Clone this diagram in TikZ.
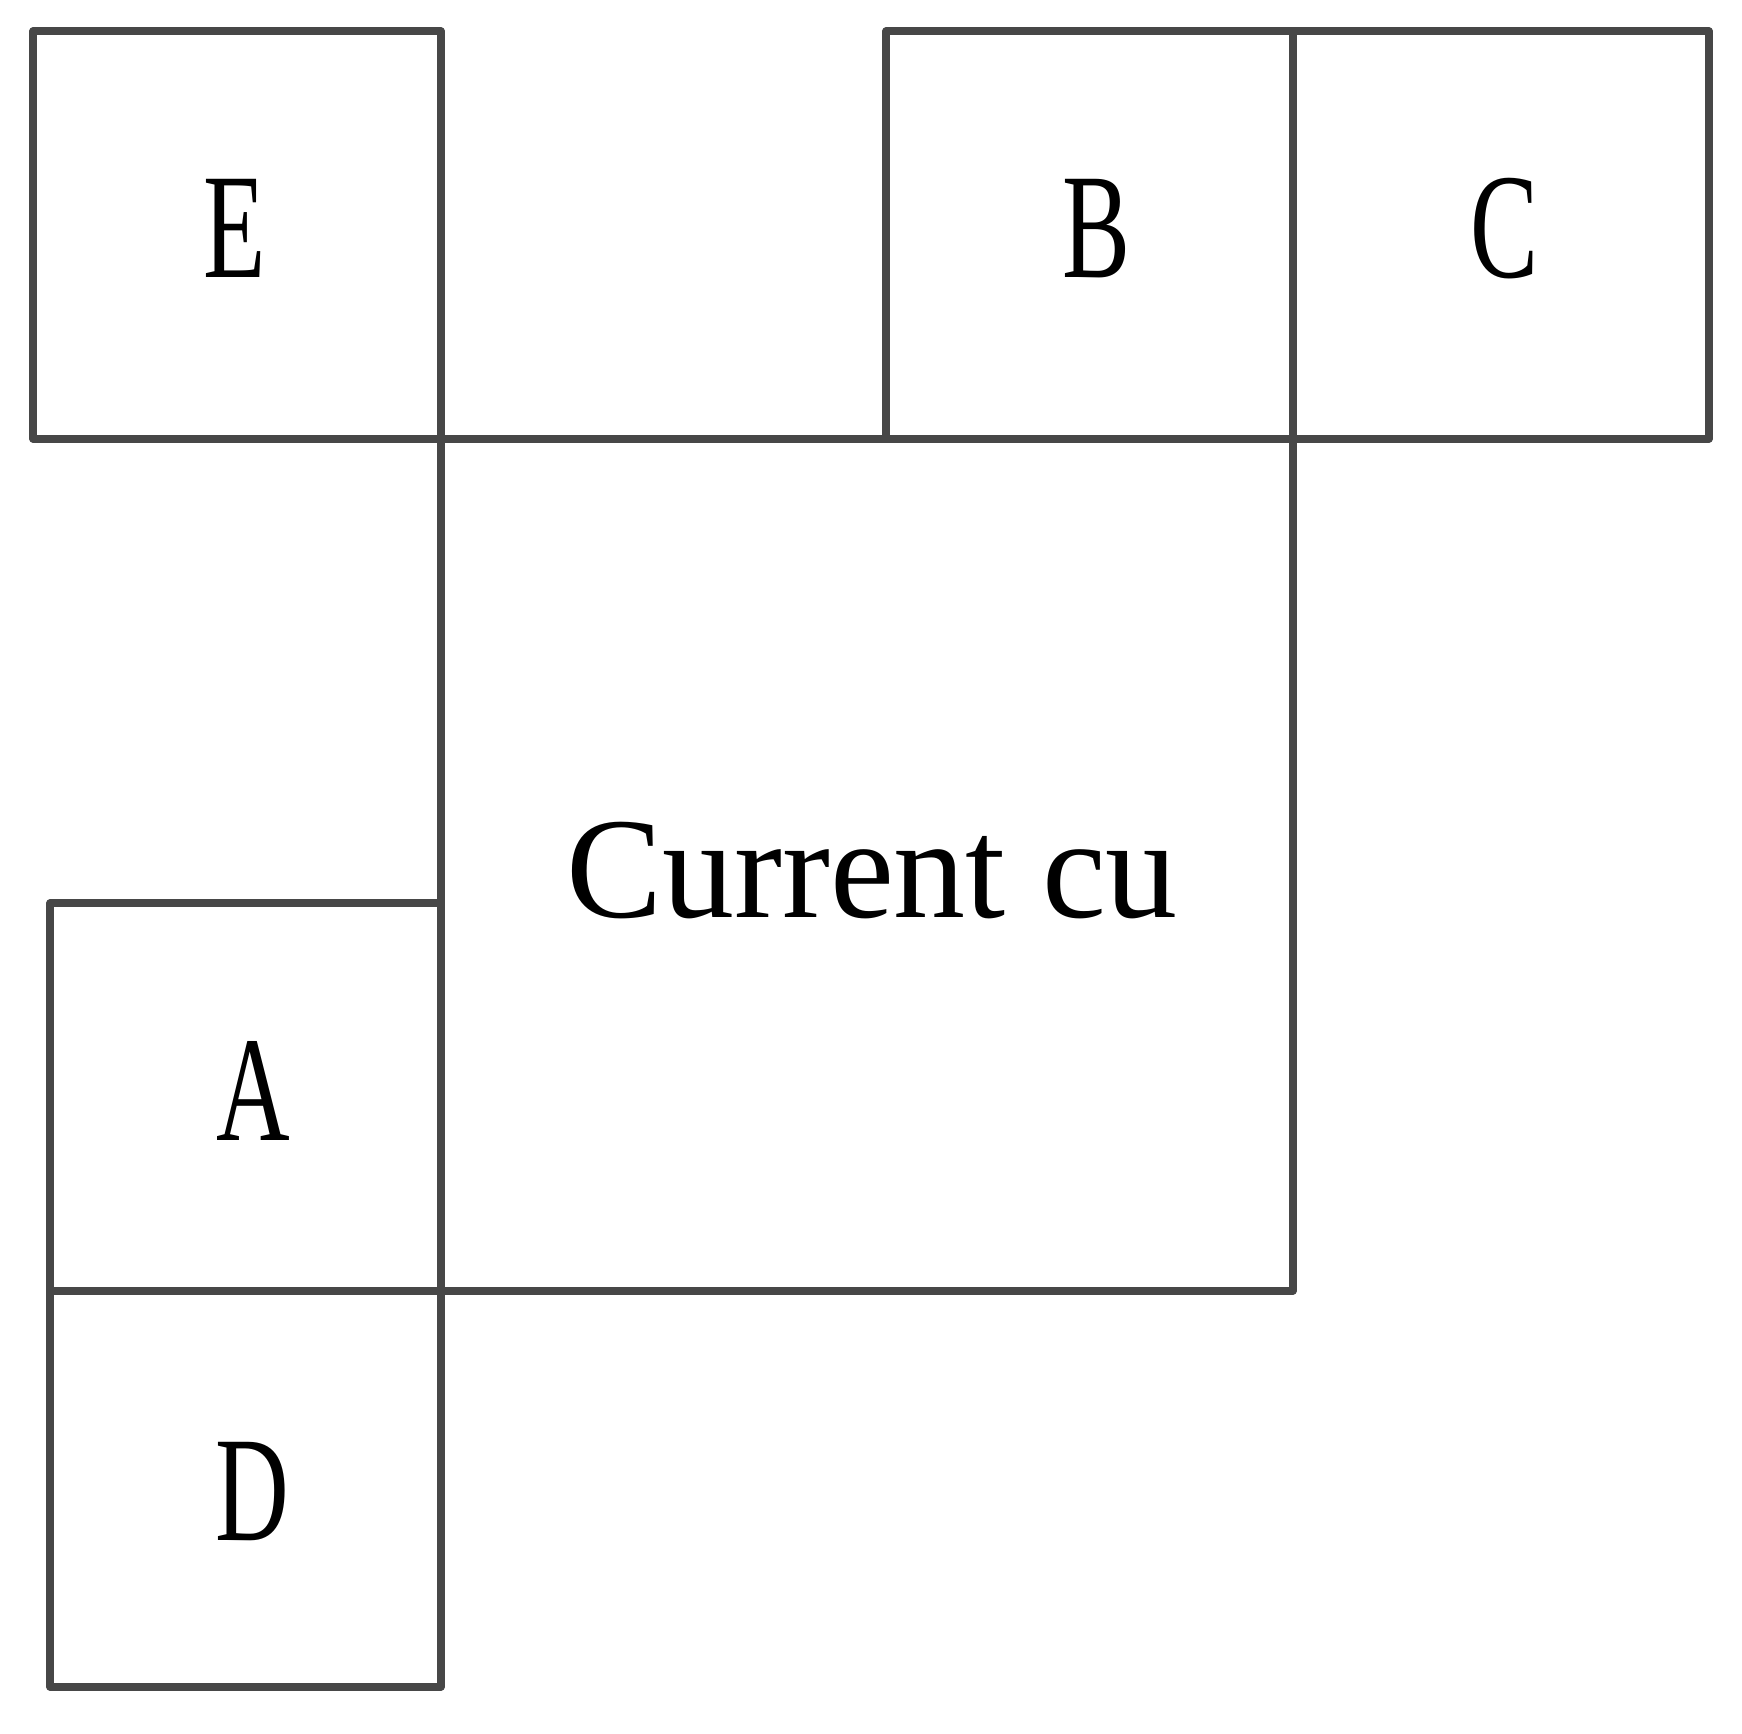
\documentclass[tikz,border=0pt]{standalone}
\usepackage{fontspec}
\setmainfont{Liberation Serif}
\begin{document}
\begin{tikzpicture}[x=0.5pt,y=-0.5pt,
  box/.style={draw=black!72, line width=3.6pt, line join=round, line cap=round},
  lbl/.style={anchor=base, inner sep=0pt, font=\fontsize{75}{80}\selectfont},
  big/.style={anchor=base, inner sep=0pt, font=\fontsize{72}{80}\selectfont}]
\useasboundingbox (0,0) rectangle (1742,1734);
% boxes
\draw[box] (33,31) rectangle (441,439);     % E
\draw[box] (886,31) rectangle (1293,439);   % B
\draw[box] (1293,31) rectangle (1709,439);  % C
\draw[box] (441,439) rectangle (1293,1291); % current
\draw[box] (50,903) rectangle (441,1291);   % A
\draw[box] (50,1291) rectangle (441,1687);  % D
% labels
\node[lbl] (E) at (235,278) {\scalebox{0.68}[1]{E}};
\node[lbl] (B) at (1097,278) {\scalebox{0.68}[1]{B}};
\node[lbl] (C) at (1505,278) {\scalebox{0.68}[1]{C}};
\node[lbl] (A) at (253,1140) {\scalebox{0.68}[1]{A}};
\node[lbl] (D) at (252,1540) {\scalebox{0.68}[1]{D}};
\node[big] (cur) at (872,917) {Current cu};
\end{tikzpicture}
\end{document}
